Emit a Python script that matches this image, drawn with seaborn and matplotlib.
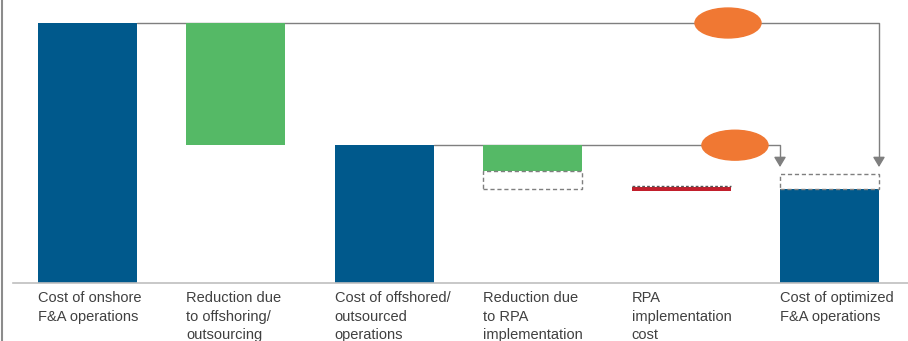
import matplotlib
matplotlib.use("Agg")
import matplotlib.pyplot as plt
from matplotlib.patches import Ellipse
from matplotlib.lines import Line2D
import seaborn as sns
import pandas as pd
import numpy as np

# ---- data ----
categories = ["Cost of onshore\nF&A operations",
              "Reduction due\nto offshoring/\noutsourcing",
              "Cost of offshored/\noutsourced\noperations",
              "Reduction due\nto RPA\nimplementation",
              "RPA\nimplementation\ncost",
              "Cost of optimized\nF&A operations"]
totals = [100, np.nan, 53, np.nan, np.nan, 36]          # solid total bars
float_bottom = [np.nan, 53, np.nan, 43, 35.3, np.nan]   # floating bars
float_top = [np.nan, 100, np.nan, 53, 36.9, np.nan]
range_bottom = [np.nan, np.nan, np.nan, 36, np.nan, 36]  # dashed range boxes
range_top = [np.nan, np.nan, np.nan, 43, np.nan, 42]

BLUE = "#00598C"
GREEN = "#55B966"
RED = "#C21F2C"
ORANGE = "#F07833"
GRAY = "#7F7F7F"
TEXT = "#404040"

sns.set_theme(style="white")
plt.rcParams['font.family'] = ['Liberation Sans', 'DejaVu Sans']

fig = plt.figure(figsize=(9.08, 3.41), dpi=100)
ax = fig.add_axes([13/908, (341-283)/341, 1-13/908, 260/341])

width = 0.667
df = pd.DataFrame({"cat": categories, "val": totals})
sns.barplot(data=df, x="cat", y="val", order=categories, color=BLUE,
            saturation=1, width=width, ax=ax, errorbar=None, linewidth=0)

x = np.arange(len(categories))
colors_float = [None, GREEN, None, GREEN, RED, None]
for i in range(len(categories)):
    if not np.isnan(float_bottom[i]):
        ax.bar(x[i], float_top[i]-float_bottom[i], bottom=float_bottom[i],
               width=width, color=colors_float[i], linewidth=0, zorder=3)
    if not np.isnan(range_bottom[i]):
        ax.bar(x[i], range_top[i]-range_bottom[i], bottom=range_bottom[i],
               width=width, facecolor="none", edgecolor=GRAY, linestyle=(0, (3, 2)),
               linewidth=1, zorder=4)
# dashed top on RPA cost bar
ax.plot([x[4]-width/2, x[4]+width/2], [float_top[4]+0.3, float_top[4]+0.3], color="#555555",
        linestyle=(0, (2, 1.5)), linewidth=1, zorder=5)

# connectors
left6 = x[5]-width/2
right6 = x[5]+width/2
ax.plot([x[0]+width/2, right6, right6], [totals[0], totals[0], 47], color=GRAY,
        lw=1, zorder=2, clip_on=False)
ax.plot([x[2]+width/2, left6, left6], [totals[2], totals[2], 47], color=GRAY,
        lw=1, zorder=2, clip_on=False)
for xx in (left6, right6):
    ax.annotate("", xy=(xx, 44.6), xytext=(xx, 47.5),
                arrowprops=dict(arrowstyle="-|>,head_length=0.5,head_width=0.3",
                                color=GRAY, lw=1, shrinkA=0, shrinkB=0), zorder=3)

# orange ellipses
ax.add_patch(Ellipse((4.316, 100), 0.445, 11.5, color=ORANGE, zorder=6, clip_on=False))
ax.add_patch(Ellipse((4.363, 53), 0.445, 11.5, color=ORANGE, zorder=6, clip_on=False))

ax.set_xlim(-0.502, 5.529)
ax.set_ylim(0, 100)
ax.set_xticks(x - width/2)
ax.set_xticklabels(categories, ha="left", fontsize=10.5, color=TEXT, linespacing=1.38)
ax.tick_params(axis="x", length=0, pad=6)
ax.set_yticks([])
ax.set_xlabel("")
ax.set_ylabel("")
for s in ["top", "right", "left"]:
    ax.spines[s].set_visible(False)
ax.spines["bottom"].set_color("#BFBFBF")
ax.spines["bottom"].set_linewidth(1.2)

fig.add_artist(Line2D([1.5/908, 1.5/908], [0, 1], color="#8C8C8C", lw=1.5))

fig.savefig("out.png", dpi=100)
